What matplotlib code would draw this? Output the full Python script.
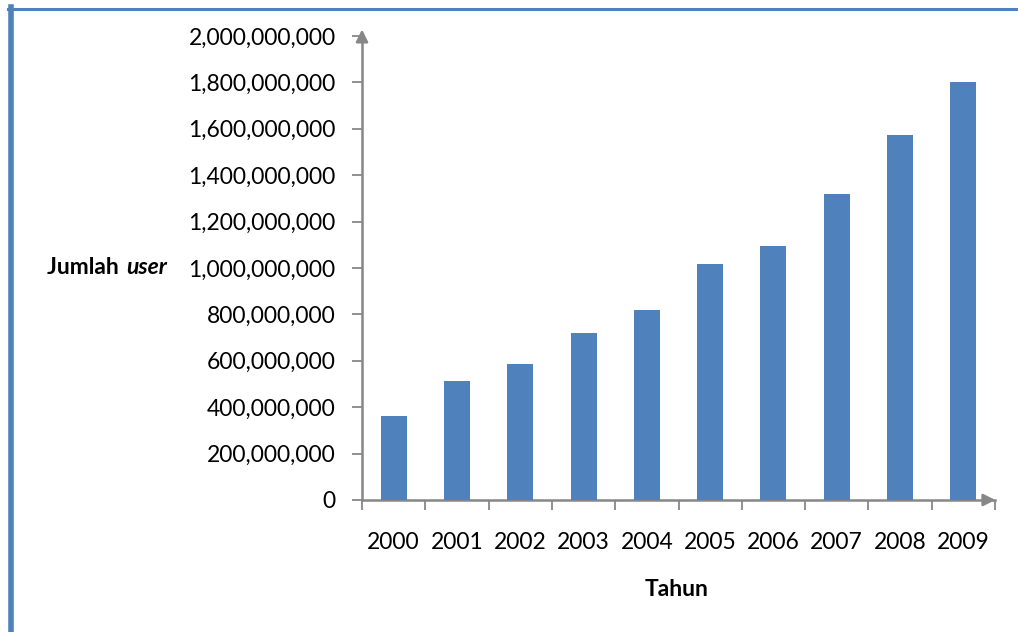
import matplotlib
matplotlib.use("Agg")
import matplotlib.pyplot as plt
from matplotlib.ticker import FuncFormatter, FixedLocator
from matplotlib.lines import Line2D

years = ["2000", "2001", "2002", "2003", "2004", "2005", "2006", "2007", "2008", "2009"]
users = [361e6, 513e6, 587e6, 719e6, 817e6, 1018e6, 1093e6, 1319e6, 1574e6, 1802e6]
y_ticks = [0, 2e8, 4e8, 6e8, 8e8, 1e9, 1.2e9, 1.4e9, 1.6e9, 1.8e9, 2e9]

W, H = 1018, 632
fig = plt.figure(figsize=(W / 100, H / 100), dpi=100)
plt.rcParams['font.family'] = ['Lato', 'DejaVu Sans']
FS = 16.5

x0, x1, yb, yt = 362, 995, 500, 36
ax = fig.add_axes([x0 / W, 1 - yb / H, (x1 - x0) / W, (yb - yt) / H])

axis_col = "#878787"
bar_col = "#4F81BD"

xs = list(range(len(years)))
ax.bar(xs, users, width=0.41, color=bar_col, zorder=3)
ax.set_xlim(-0.5, len(years) - 0.5)
ax.set_ylim(0, 2e9)

ax.set_xticks(xs)
ax.set_xticklabels(years)
ax.xaxis.set_minor_locator(FixedLocator([i - 0.5 for i in range(len(years) + 1)]))
ax.tick_params(axis='x', which='major', length=0, pad=23, labelsize=FS, colors='black')
ax.tick_params(axis='x', which='minor', length=7, width=1.3, color=axis_col, direction='out')

ax.set_yticks(y_ticks)
ax.yaxis.set_major_formatter(FuncFormatter(lambda v, p: f"{int(v):,}"))
ax.tick_params(axis='y', length=7, width=1.3, color=axis_col, pad=12, labelsize=FS, labelcolor='black')

for s in ['top', 'right']:
    ax.spines[s].set_visible(False)
for s in ['left', 'bottom']:
    ax.spines[s].set_color(axis_col)
    ax.spines[s].set_linewidth(1.8)

# arrow heads
ax.annotate('', xy=(0, 1.02), xytext=(0, 0.99), xycoords='axes fraction',
            arrowprops=dict(arrowstyle='-|>', color=axis_col, lw=1.8, mutation_scale=18), annotation_clip=False)
ax.annotate('', xy=(1.005, 0), xytext=(0.98, 0), xycoords='axes fraction',
            arrowprops=dict(arrowstyle='-|>', color=axis_col, lw=1.8, mutation_scale=18), annotation_clip=False)

fig.text(677 / W, 1 - 589 / H, "Tahun", ha='center', va='center', fontsize=FS, fontweight='bold')
t1 = fig.text(47 / W, 1 - 268 / H, "Jumlah ", ha='left', va='center', fontsize=FS, fontweight='bold')
fig.canvas.draw()
bb = t1.get_window_extent()
fig.text((bb.x1 + 2) / W, 1 - 268 / H, "user", ha='left', va='center', fontsize=FS, fontweight='bold', style='italic')

# page border lines
fig.add_artist(Line2D([10.5 / W, 10.5 / W], [0, 1 - 7 / H], transform=fig.transFigure, color="#4F81BD", lw=4))
fig.add_artist(Line2D([8 / W, 1], [1 - 8.5 / H, 1 - 8.5 / H], transform=fig.transFigure, color="#4F81BD", lw=2.2))

fig.savefig("out.png", dpi=100)
